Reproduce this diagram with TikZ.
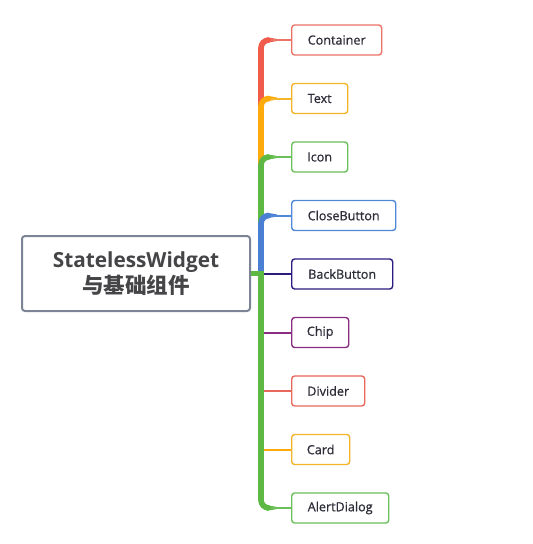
\documentclass[tikz,border=0pt]{standalone}
\usepackage{fontspec}
\setmainfont{Open Sans}
\newfontfamily\cjk{Noto Sans CJK SC}
\newfontfamily\leaffont{Open Sans}[FakeBold=0.8]
\usetikzlibrary{calc}
\definecolor{cRed}{HTML}{F15B4C}
\definecolor{cRedB}{HTML}{EC7266}
\definecolor{cOrg}{HTML}{FDAA0C}
\definecolor{cOrgB}{HTML}{F5B52A}
\definecolor{cGrn}{HTML}{5DB944}
\definecolor{cGrnB}{HTML}{6CC05A}
\definecolor{cBlu}{HTML}{4A7FD4}
\definecolor{cBluB}{HTML}{5088D8}
\definecolor{cNav}{HTML}{2B1C80}
\definecolor{cPur}{HTML}{8A2C82}
\definecolor{cDiv}{HTML}{E8685C}
\definecolor{cRootB}{HTML}{7C8496}
\definecolor{cTxt}{HTML}{2E2E3A}
\definecolor{cTitle}{HTML}{454548}
\tikzset{
  leaf/.style={draw=#1, fill=white, rounded corners=3pt, line width=1.4pt,
    minimum height=30pt, anchor=west, inner sep=0pt, text=cTxt,
    font=\leaffont\fontsize{12.6}{15}\selectfont},
  rootbox/.style={draw=cRootB, fill=white, rounded corners=3pt, line width=2pt,
    minimum width=228pt, minimum height=75pt, inner sep=0pt, align=center,
    text=cTitle},
  trunk/.style={draw=#1, line width=5.6pt, rounded corners=8pt},
  twig/.style={draw=#1, line width=2pt},
}
\newcommand\topbranch[3]{% color, line color, node
  \draw[trunk=#1] (hub) |- ($(hub |- #3.west)+(8,0)$);
  \fill[#1] ($(hub |- #3.west)+(6,-2.8)$) -- ($(hub |- #3.west)+(16,-1)$)
     -- ($(hub |- #3.west)+(16,1)$) -- ($(hub |- #3.west)+(6,2.8)$) -- cycle;
  \draw[twig=#2] ($(hub |- #3.west)+(10,0)$) -- (#3.west);
}
\newcommand\sidebranch[2]{% color, node
  \draw[twig=#1] ($(hub |- #2.west)+(1,0)$) -- (#2.west);
}
\begin{document}
\begin{tikzpicture}[x=1pt,y=-1pt]
\useasboundingbox[fill=white] (0,0) rectangle (533,544);

\node[rootbox] (root) at (136,273.5)
  {\fontsize{20.8}{26}\selectfont\bfseries StatelessWidget\\[1.5pt]
   \fontsize{21.5}{26}\selectfont\cjk\bfseries 与基础组件};

\coordinate (hub) at (261,273.5);

\node[leaf=cRedB, minimum width=90pt] (container) at (291,40) {Container};
\node[leaf=cOrgB, minimum width=56pt] (text) at (291,98.5) {Text};
\node[leaf=cGrnB, minimum width=56pt] (icon) at (291,157) {Icon};
\node[leaf=cBluB, minimum width=104pt] (close) at (291,215.5) {CloseButton};
\node[leaf=cNav, minimum width=101pt] (back) at (291,274) {BackButton};
\node[leaf=cPur, minimum width=57pt] (chip) at (291,332.5) {Chip};
\node[leaf=cDiv, minimum width=73pt] (divider) at (291,391) {Divider};
\node[leaf=cOrgB, minimum width=58pt] (card) at (291,449.5) {Card};
\node[leaf=cGrnB, minimum width=97pt] (alert) at (291,508) {AlertDialog};

% upper branches (later ones cover earlier trunk parts)
\topbranch{cRed}{cRedB}{container}
\topbranch{cOrg}{cOrgB}{text}
\topbranch{cGrn}{cGrnB}{icon}
\topbranch{cBlu}{cBluB}{close}
% lower branches
\sidebranch{cNav}{back}
\sidebranch{cPur}{chip}
\sidebranch{cDiv}{divider}
\sidebranch{cOrg}{card}
\topbranch{cGrn}{cGrnB}{alert}
% root connector
\draw[draw=cGrn, line width=5.6pt] (root.east) -- ($(hub)+(2.5,0)$);
\end{tikzpicture}
\end{document}
